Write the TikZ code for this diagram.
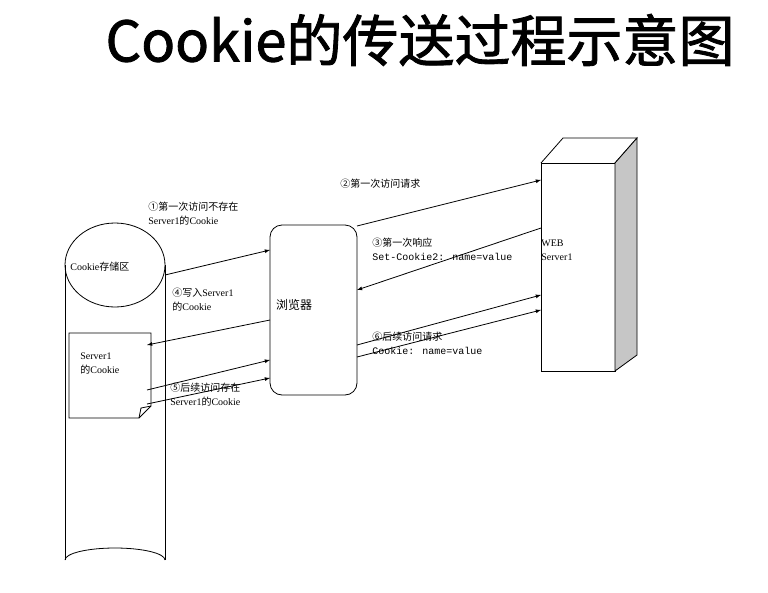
\documentclass[tikz,border=0pt]{standalone}
\usepackage{fontspec}
\setmainfont{Liberation Serif}
\newfontfamily\cjk{Noto Sans CJK SC}
\newfontfamily\cjktitle{Noto Sans CJK SC}[FakeBold=1.5]
\newfontfamily\mono{Liberation Mono}
\usetikzlibrary{positioning}
\begin{document}
\begin{tikzpicture}[x=1pt,y=-1pt,line width=0.8pt,
    lbl/.style={anchor=north west,align=left,inner sep=0pt,font=\fontsize{10}{14}\selectfont},
    arr/.style={-latex}]
    \useasboundingbox (0,0) rectangle (768,592);
    % 标题
    \node[font=\cjktitle\fontsize{56}{60}\selectfont] (title) at (420,40) {Cookie的传送过程示意图};

    % Cookie存储区
    \draw (65,265) -- (65,560) (165,265) -- (165,560);
    \draw (65,560) arc [start angle=180, end angle=360, x radius=50, y radius=12];
    \draw (115,265) ellipse [x radius=50, y radius=42];
    \node[lbl] (store) at (70,262) {Cookie{\cjk 存储区}};
    \draw (69,333) -- (151,333) -- (151,406) -- (139,418) -- (69,418) -- cycle;
    \draw (151,406) -- (141,408) -- (139,418);
    \node[lbl] (doc) at (80,352) {Server1\\{\cjk 的}Cookie};

    % 浏览器
    \draw[rounded corners=12pt] (270,225) rectangle (357,395);
    \node[font=\cjk\fontsize{12}{14}\selectfont] (browser) at (294,305) {浏览器};

    % WEB Server1
    \draw (541,163) rectangle (615,371);
    \draw (541,163) -- (563,138) -- (637,138) -- (615,163);
    \draw[fill=gray!45] (615,163) -- (637,138) -- (637,355) -- (615,371) -- cycle;
    \node[lbl] (server) at (541,240) {WEB\\Server1};

    % 箭头
    \coordinate (s1) at (165,275); \coordinate (b1) at (270,250);
    \coordinate (b2) at (357,226); \coordinate (w2) at (541,180);
    \coordinate (w3) at (541,228); \coordinate (b3) at (357,290);
    \coordinate (b4) at (270,320); \coordinate (d4) at (147,345);
    \coordinate (d5a) at (147,390); \coordinate (b5a) at (270,360);
    \coordinate (d5b) at (147,404); \coordinate (b5b) at (270,378);
    \coordinate (b6a) at (357,345); \coordinate (w6a) at (541,295);
    \coordinate (b6b) at (357,357); \coordinate (w6b) at (541,310);
    \draw[arr] (s1) -- (b1);
    \draw[arr] (b2) -- (w2);
    \draw[arr] (w3) -- (b3);
    \draw[arr] (b4) -- (d4);
    \draw[arr] (d5a) -- (b5a);
    \draw[arr] (d5b) -- (b5b);
    \draw[arr] (b6a) -- (w6a);
    \draw[arr] (b6b) -- (w6b);

    % 说明
    \node[lbl] (t1) at (148,202) {{\cjk ①第一次访问不存在}\\Server1{\cjk 的}Cookie};
    \node[lbl] (t2) at (340,179) {{\cjk ②第一次访问请求}};
    \node[lbl] (t3) at (372,238) {{\cjk ③第一次响应}\\{\mono Set-Cookie2: name=value}};
    \node[lbl] (t4) at (172,288) {{\cjk ④写入}Server1\\{\cjk 的}Cookie};
    \node[lbl] (t5) at (170,383) {{\cjk ⑤后续访问存在}\\Server1{\cjk 的}Cookie};
    \node[lbl] (t6) at (372,332) {{\cjk ⑥后续访问请求}\\{\mono Cookie: name=value}};
\end{tikzpicture}
\end{document}
